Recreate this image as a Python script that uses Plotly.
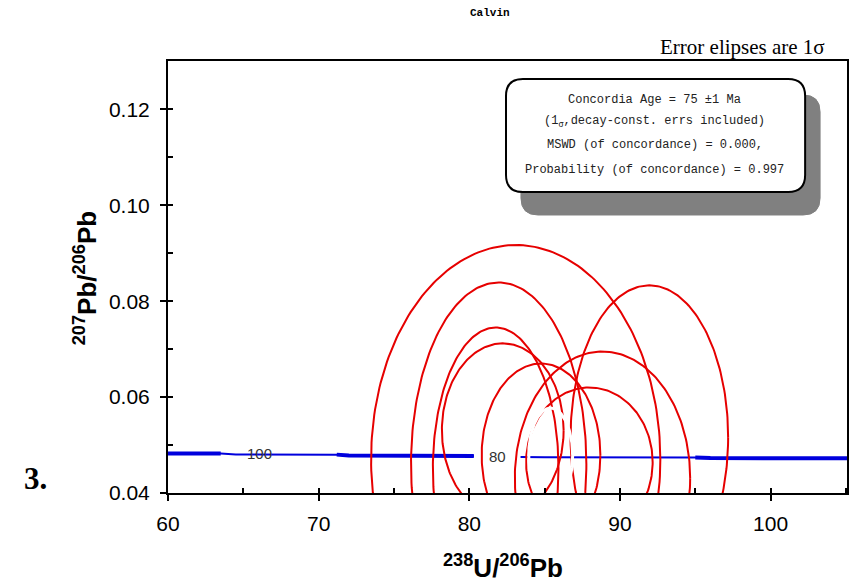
import numpy as np
import plotly.graph_objects as go

# ---------------- data ----------------
# 1-sigma error ellipses (centre x, centre y, semi-axis x, semi-axis y)
ell_cx = [83.08, 81.95, 81.75, 82.22, 84.76, 91.95, 88.84, 87.97]
ell_cy = [0.0470, 0.0460, 0.0451, 0.0531, 0.0479, 0.0516, 0.0431, 0.0464]
ell_sx = [9.60, 5.82, 4.17, 4.04, 3.94, 5.23, 5.82, 4.20]
ell_sy = [0.0447, 0.0379, 0.0294, 0.0181, 0.0191, 0.0317, 0.0264, 0.0156]

# concordia-age ellipse (drawn in white)
age_cx = [85.40]
age_cy = [0.0478]
age_sx = [1.46]
age_sy = [0.0099]

# concordia curve (None = gap behind the "80" label)
conc_x = [60.0, 63.5, 64.5, 71.2, 72.0, 80.3, None, 83.4, 85.0, 95.0, 96.0, 105.2]
conc_y = [0.04822, 0.04822, 0.04805, 0.04800, 0.04780, 0.04770, None,
          0.04750, 0.04745, 0.04738, 0.04728, 0.04725]
# thicker stretches of the concordia band
thick_x = [[60.0, 63.5], [71.2, 72.0, 80.3], [95.0, 96.0, 105.2]]
thick_y = [[0.04822, 0.04822], [0.04800, 0.04780, 0.04770], [0.04738, 0.04728, 0.04725]]

# concordia age tick labels (Ma)
age_labels = ["100", "80"]
age_label_x = [66.1, 81.9]
age_label_y = [0.04815, 0.04765]

x_ticks = [60, 70, 80, 90, 100]
y_ticks = [0.04, 0.06, 0.08, 0.10, 0.12]

box_lines = [
    "Concordia Age = 75 ±1 Ma",
    "(1<sub>σ</sub>,decay-const. errs included)",
    "MSWD (of concordance) = 0.000,",
    "Probability (of concordance) = 0.997",
]

# ---------------- layout helpers ----------------
W, H = 850, 588
PLOT_L, PLOT_T, PLOT_R, PLOT_B = 168, 61, 849, 493   # plot area in page pixels
L = PLOT_L
T = PLOT_T
R = W - PLOT_R
PW = PLOT_R - PLOT_L
PH = PLOT_B - PLOT_T
B = H - T - PH


def px2paper(px, py):
    return (px - PLOT_L) / PW, (PLOT_B - py) / PH


def rounded_path(x0, y0, x1, y1, r):
    def p(px, py):
        a, b = px2paper(px, py)
        return f"{a:.5f},{b:.5f}"
    pts = ["M " + p(x0 + r, y0),
           "L " + p(x1 - r, y0),
           "Q " + p(x1, y0) + " " + p(x1, y0 + r),
           "L " + p(x1, y1 - r),
           "Q " + p(x1, y1) + " " + p(x1 - r, y1),
           "L " + p(x0 + r, y1),
           "Q " + p(x0, y1) + " " + p(x0, y1 - r),
           "L " + p(x0, y0 + r),
           "Q " + p(x0, y0) + " " + p(x0 + r, y0),
           "Z"]
    return " ".join(pts)


t = np.linspace(0, 2 * np.pi, 241)

fig = go.Figure()

# concordia
fig.add_trace(go.Scatter(x=conc_x, y=conc_y, mode="lines",
                         line=dict(color="#0000dd", width=2),
                         hoverinfo="skip", showlegend=False, connectgaps=False))
for tx, ty in zip(thick_x, thick_y):
    fig.add_trace(go.Scatter(x=tx, y=ty, mode="lines",
                             line=dict(color="#0000dd", width=4),
                             hoverinfo="skip", showlegend=False))

# red error ellipses
for cx, cy, sx, sy in zip(ell_cx, ell_cy, ell_sx, ell_sy):
    fig.add_trace(go.Scatter(x=cx + sx * np.cos(t), y=cy + sy * np.sin(t),
                             mode="lines", line=dict(color="#e60000", width=2),
                             hoverinfo="skip", showlegend=False))

# white concordia-age ellipse
for cx, cy, sx, sy in zip(age_cx, age_cy, age_sx, age_sy):
    fig.add_trace(go.Scatter(x=cx + sx * np.cos(t), y=cy + sy * np.sin(t),
                             mode="lines", line=dict(color="white", width=3),
                             hoverinfo="skip", showlegend=False))

# dummy trace for inside-tick overlay axes
fig.add_trace(go.Scatter(x=[None], y=[None], xaxis="x2", yaxis="y2",
                         showlegend=False, hoverinfo="skip"))

xr = [60, 60 + PW / 15.11]
yr = [0.04, 0.04 + PH / 4796]

tickfont = dict(family="Liberation Sans, Arial, sans-serif", size=21, color="black")

fig.update_layout(
    width=W, height=H,
    margin=dict(l=L, r=R, t=T, b=B),
    paper_bgcolor="white", plot_bgcolor="white",
    xaxis=dict(range=xr, tickvals=x_ticks, ticktext=[str(v) for v in x_ticks],
               showline=True, linecolor="black", linewidth=2, mirror=True,
               ticks="outside", ticklen=6, tickwidth=2, tickcolor="black",
               showgrid=False, zeroline=False, tickfont=tickfont,
               ticklabelstandoff=5),
    yaxis=dict(range=yr, tickvals=y_ticks, ticktext=[f"{v:.2f}" for v in y_ticks],
               showline=True, linecolor="black", linewidth=2, mirror=True,
               ticks="outside", ticklen=6, tickwidth=2, tickcolor="black",
               showgrid=False, zeroline=False, tickfont=tickfont,
               ticklabelstandoff=6),
    xaxis2=dict(range=xr, overlaying="x", anchor="y", side="bottom",
                dtick=5, tick0=60, ticks="inside", ticklen=5, tickwidth=1.5,
                tickcolor="black", showticklabels=False, showline=False,
                showgrid=False, zeroline=False),
    yaxis2=dict(range=yr, overlaying="y", anchor="x", side="left",
                dtick=0.01, tick0=0.04, ticks="inside", ticklen=5, tickwidth=1.5,
                tickcolor="black", showticklabels=False, showline=False,
                showgrid=False, zeroline=False),
)

shapes = [
    dict(type="path", xref="paper", yref="paper",
         path=rounded_path(522, 95, 822, 215, 17),
         fillcolor="#808080", line=dict(color="#808080", width=1), layer="above"),
    dict(type="path", xref="paper", yref="paper",
         path=rounded_path(507, 79, 807, 192, 17),
         fillcolor="white", line=dict(color="black", width=2), layer="above"),
]
fig.update_layout(shapes=shapes)

ann = []
box_y = [100, 122, 145, 170]
for txt, py in zip(box_lines, box_y):
    xp, yp = px2paper(656, py)
    ann.append(dict(text=txt, xref="paper", yref="paper", x=xp, y=yp,
                    xanchor="center", yanchor="middle", showarrow=False,
                    font=dict(family="Liberation Mono, Courier New, monospace",
                              size=12, color="#222")))

for lab, lx, ly in zip(age_labels, age_label_x, age_label_y):
    ann.append(dict(text=lab, x=lx, y=ly, xref="x", yref="y", showarrow=False,
                    xanchor="center", yanchor="middle",
                    font=dict(family="Liberation Sans, Arial, sans-serif", size=15, color="#333")))

xp, yp = px2paper(829, 47)
ann.append(dict(text="Error elipses are 1σ", xref="paper", yref="paper", x=xp, y=yp,
                xanchor="right", yanchor="middle", showarrow=False,
                font=dict(family="Liberation Serif, Times New Roman, serif", size=21, color="black")))

xp, yp = px2paper(491, 13)
ann.append(dict(text="<b>Calvin</b>", xref="paper", yref="paper", x=xp, y=yp,
                xanchor="center", yanchor="middle", showarrow=False,
                font=dict(family="Liberation Mono, Courier New, monospace", size=11, color="black")))

xp, yp = px2paper(35, 478)
ann.append(dict(text="<b>3.</b>", xref="paper", yref="paper", x=xp, y=yp,
                xanchor="center", yanchor="middle", showarrow=False,
                font=dict(family="Liberation Serif, Times New Roman, serif", size=31, color="black")))

xp, yp = px2paper(504, 566)
ann.append(dict(text="<b><sup>238</sup>U/<sup>206</sup>Pb</b>", xref="paper", yref="paper",
                x=xp, y=yp, xanchor="center", yanchor="middle", showarrow=False,
                font=dict(family="Liberation Sans, Arial, sans-serif", size=26, color="black")))

xp, yp = px2paper(85, 278)
ann.append(dict(text="<b><sup>207</sup>Pb/<sup>206</sup>Pb</b>", xref="paper", yref="paper",
                x=xp, y=yp, xanchor="center", yanchor="middle", showarrow=False,
                textangle=-90,
                font=dict(family="Liberation Sans, Arial, sans-serif", size=26, color="black")))

fig.update_layout(annotations=ann)

fig.write_html(
    "out.html",
    config={"displayModeBar": False},
    post_script="document.body.style.margin='0px';document.body.style.overflow='hidden';",
)
